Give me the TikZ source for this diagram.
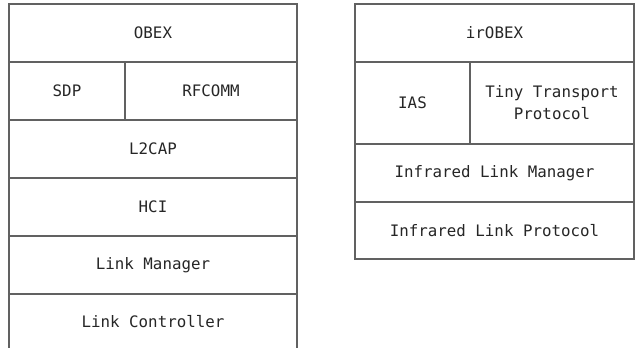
\documentclass[tikz,border=0pt]{standalone}
\usepackage{fontspec}
\newfontfamily\mono{DejaVu Sans Mono}
\begin{document}
\begin{tikzpicture}[x=1pt,y=-1pt,
  txt/.style={text=black!85, align=center, font=\mono\fontsize{15.8}{22}\selectfont},
  cell/.style={txt, draw=black!62, line width=1.3pt, rectangle, inner sep=0pt}]
\clip (0,0) rectangle (635,348);
\fill[white] (0,0) rectangle (635,348);
% left stack
\node[cell, minimum width=288pt, minimum height=58pt] (obex) at (153,33) {OBEX};
\node[cell, minimum width=116pt, minimum height=58pt] (sdp) at (67,91) {SDP};
\node[cell, minimum width=172pt, minimum height=58pt] (rfcomm) at (211,91) {RFCOMM};
\node[cell, minimum width=288pt, minimum height=58pt] (l2cap) at (153,149) {L2CAP};
\node[cell, minimum width=288pt, minimum height=58pt] (hci) at (153,207) {HCI};
\node[cell, minimum width=288pt, minimum height=58pt] (lm) at (153,265) {Link Manager};
\node[cell, minimum width=288pt, minimum height=70pt] (lc) at (153,329) {};
\node[txt] (lctext) at (153,322) {Link Controller};
% right stack
\node[cell, minimum width=279pt, minimum height=58pt] (irobex) at (494.5,33) {irOBEX};
\node[cell, minimum width=115pt, minimum height=82pt] (ias) at (412.5,103) {IAS};
\node[cell, minimum width=164pt, minimum height=82pt] (ttp) at (552,103) {Tiny Transport\\Protocol};
\node[cell, minimum width=279pt, minimum height=58pt] (ilm) at (494.5,173) {Infrared Link Manager};
\node[cell, minimum width=279pt, minimum height=57pt] (ilp) at (494.5,230.5) {Infrared Link Protocol};
\end{tikzpicture}
\end{document}
